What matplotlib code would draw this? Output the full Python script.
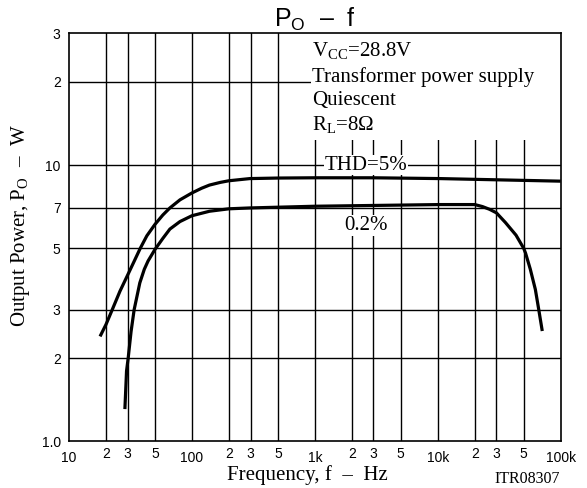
import matplotlib
matplotlib.use("Agg")
import matplotlib.pyplot as plt
from matplotlib.ticker import FixedLocator, NullLocator
from matplotlib.patches import Rectangle

plt.rcParams["mathtext.fontset"] = "custom"
plt.rcParams["mathtext.rm"] = "Liberation Serif"
plt.rcParams["mathtext.sf"] = "Liberation Sans"

# ---- data ----
thd5_freq = [17.9, 20, 22.5, 26, 30, 34, 38, 43, 50, 58, 66.2, 80, 100, 120, 139, 170, 200, 296,
             500, 1000, 3000, 10400, 30000, 100000]
thd5_pow  = [2.40, 2.65, 3.0, 3.5, 4.0, 4.5, 5.0, 5.55, 6.1, 6.6, 7.0, 7.49, 7.93, 8.25, 8.47,
             8.66, 8.78, 8.94, 8.98, 9.0, 9.0, 8.94, 8.85, 8.75]

thd02_freq = [28.5, 29.4, 30.3, 32, 33.9, 37.7, 41, 44, 50, 58, 66.2, 80, 100, 139, 200, 296,
              1000, 10400, 20000, 23100, 26400, 30000, 35500, 43300, 50000, 51800, 56600,
              62200, 66300, 70800]
thd02_pow  = [1.31, 1.80, 2.0, 2.5, 3.0, 3.75, 4.2, 4.5, 4.95, 5.43, 5.87, 6.25, 6.56, 6.81, 6.95,
              7.0, 7.1, 7.2, 7.2, 7.08, 6.92, 6.72, 6.2, 5.58, 5.0, 4.8, 4.2, 3.55, 3.0, 2.51]

xticks_major = [10, 100, 1000, 10000, 100000]
xticks_major_labels = ["10", "100", "1k", "10k", "100k"]
xticks_minor = [20, 30, 50, 200, 300, 500, 2000, 3000, 5000, 20000, 30000, 50000]
xticks_minor_labels = ["2", "3", "5"] * 4

yticks = [1, 2, 3, 5, 7, 10, 20, 30]
yticks_labels = ["1.0", "2", "3", "5", "7", "10", "2", "3"]

serif = ["Liberation Serif", "DejaVu Serif"]
sans = ["Liberation Sans", "DejaVu Sans"]
fs = 15

fig = plt.figure(figsize=(5.87, 4.88), dpi=100)
ax = fig.add_axes([0.1175, 0.0953, 0.8377, 0.8365])
ax.set_xscale("log")
ax.set_yscale("log")
ax.set_xlim(10, 100000)
ax.set_ylim(1, 30)

# grid lines
for x in xticks_minor + xticks_major[1:-1]:
    ax.axvline(x, color="black", lw=1.0, zorder=1)
for y in yticks[1:-1]:
    ax.axhline(y, color="black", lw=1.0, zorder=1)

ax.plot(thd5_freq, thd5_pow, color="black", lw=2.3, zorder=3,
        solid_capstyle="butt", solid_joinstyle="round")
ax.plot(thd02_freq, thd02_pow, color="black", lw=2.3, zorder=3,
        solid_capstyle="butt", solid_joinstyle="round")

# ticks
ax.xaxis.set_major_locator(FixedLocator(xticks_major))
ax.set_xticklabels(xticks_major_labels, fontfamily=sans, fontsize=10)
ax.xaxis.set_minor_locator(FixedLocator(xticks_minor))
ax.set_xticklabels(xticks_minor_labels, minor=True, fontfamily=sans, fontsize=10)
ax.tick_params(axis="x", which="major", length=0, pad=7)
ax.tick_params(axis="x", which="minor", length=0, pad=4)
ax.yaxis.set_major_locator(FixedLocator(yticks))
ax.yaxis.set_minor_locator(NullLocator())
ax.set_yticklabels(yticks_labels, fontfamily=sans, fontsize=10)
ax.tick_params(axis="y", which="both", length=0, pad=6)
for s in ax.spines.values():
    s.set_linewidth(1.2)

# annotation box covering grid
box = Rectangle((0.492, 0.738), 0.6, 0.3, transform=ax.transAxes, facecolor="white",
                edgecolor="none", zorder=2)
ax.add_patch(box)
tx = 0.494
ax.text(tx, 0.955, r"V$_{\mathrm{CC}}$=28.8V", transform=ax.transAxes, fontfamily=serif,
        fontsize=fs, va="center", ha="left", zorder=4)
ax.text(tx, 0.894, "Transformer power supply", transform=ax.transAxes, fontfamily=serif,
        fontsize=fs, va="center", ha="left", zorder=4)
ax.text(tx, 0.835, "Quiescent", transform=ax.transAxes, fontfamily=serif,
        fontsize=fs, va="center", ha="left", zorder=4)
ax.text(tx, 0.776, r"R$_{\mathrm{L}}$=8Ω", transform=ax.transAxes, fontfamily=serif,
        fontsize=fs, va="center", ha="left", zorder=4)

ax.text(2600, 10, "THD=5%", fontfamily=serif, fontsize=fs, ha="center", va="center",
        zorder=4, bbox=dict(facecolor="white", edgecolor="none", pad=0.5))
ax.text(2600, 6.05, "0.2%", fontfamily=serif, fontsize=fs, ha="center", va="center",
        zorder=4, bbox=dict(facecolor="white", edgecolor="none", pad=0.5))

ax.set_title(r"P$_{\mathsf{O}}$  –  f", fontfamily=sans, fontsize=18, pad=5)
ax.set_xlabel("Frequency, f  –  Hz", fontfamily=serif, fontsize=fs)
ax.xaxis.set_label_coords(0.484, -0.057)
ax.set_ylabel(r"Output Power, P$_{\mathrm{O}}$  –  W", fontfamily=serif, fontsize=fs)
ax.yaxis.set_label_coords(-0.076, 0.53)
fig.text(527 / 587, 1 - 479 / 488, "ITR08307", fontfamily=serif, fontsize=11.5,
         ha="center", va="center")

fig.savefig("out.png", dpi=100)
